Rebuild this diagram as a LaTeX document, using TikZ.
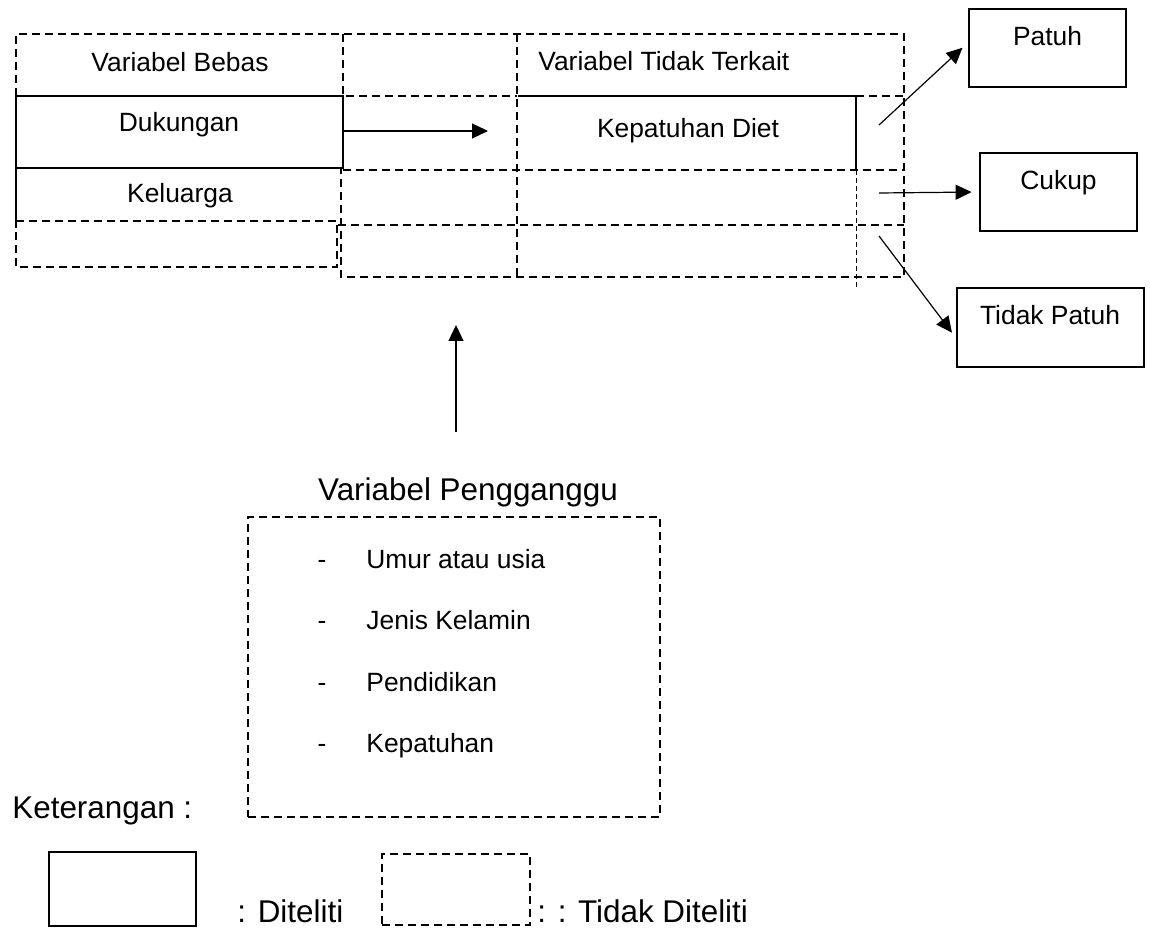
\documentclass[tikz,border=0pt]{standalone}
\usepackage{fontspec}
\setmainfont{Liberation Sans}
\usetikzlibrary{arrows.meta}

\begin{document}
\begin{tikzpicture}[x=0.5pt, y=-0.5pt, >={Triangle[length=8pt,width=7.5pt]},
 solidln/.style={line width=1.4pt},
 dashln/.style={line width=1.4pt, dash pattern=on 4pt off 2.5pt},
 thinln/.style={line width=0.5pt, dash pattern=on 2.5pt off 1.5pt},
 arr/.style={->, line width=0.6pt},
 cell/.style={font=\fontsize{13.2}{16}\selectfont, inner sep=0pt, anchor=base},
 big/.style={font=\fontsize{15.7}{19}\selectfont, inner sep=0pt, anchor=base},
 outbox/.style={draw, line width=1.4pt, inner sep=0pt}]
 \useasboundingbox (0,0) rectangle (1150,930);

 \draw[solidln] (16,96) -- (343,96) -- (343,168) -- (16,168);
 \draw[solidln] (16,96) -- (16,228);
 \draw[solidln] (518,96) -- (856,96) -- (856,170);
 \draw[dashln] (16,96) -- (16,34) -- (904,34) -- (904,277) -- (341,277) -- (341,168);
 \draw[dashln] (343,34) -- (343,96) -- (517,96);
 \draw[dashln] (856,96) -- (904,96);
 \draw[dashln] (517,34) -- (517,277);
 \draw[dashln] (343,170) -- (904,170);
 \draw[dashln] (338,225) -- (904,225);
 \draw[dashln] (16,221) -- (337,221) -- (337,267) -- (16,267) -- cycle;
 \draw[thinln] (856,170) -- (856,287);

 \node[cell] (bebas) at (180,72) {Variabel Bebas};
 \node[cell] (dukungan) at (179,132) {Dukungan};
 \node[cell] (keluarga) at (180,203) {Keluarga};
 \node[cell, anchor=base west] (terkait) at (538,71) {Variabel Tidak Terkait};
 \node[cell] (diet) at (688,138) {Kepatuhan Diet};

 \coordinate (dukR) at (343,131);
 \coordinate (dietL) at (488,131);
 \draw[arr] (dukR) -- (dietL);

 \node[outbox, minimum width=78.5pt, minimum height=39pt] (patuh) at (1047.5,48) {};
 \node[cell] (patuhtxt) at (1047.5,46) {Patuh};
 \node[outbox, minimum width=78.5pt, minimum height=39pt] (cukup) at (1058.5,192) {};
 \node[cell] (cukuptxt) at (1058.5,190) {Cukup};
 \node[outbox, minimum width=93.5pt, minimum height=39.5pt] (tidakpatuh) at (1050.5,327.5) {};
 \node[cell] (tidakpatuhtxt) at (1050,325) {Tidak Patuh};

 \coordinate (o1) at (879,125);
 \coordinate (o2) at (879,193);
 \coordinate (o3) at (879,236);
 \draw[arr, shorten >=3.5pt] (o1) -- ([yshift=2.5pt]patuh.west);
 \draw[arr, shorten >=3.5pt] (o2) -- (cukup.west);
 \draw[arr, shorten >=3pt] (o3) -- ([yshift=-5pt]tidakpatuh.west);

 \coordinate (up0) at (456,432);
 \coordinate (up1) at (456,325);
 \draw[arr] (up0) -- (up1);

 \node[big] (judul) at (468,500) {Variabel Pengganggu};
 \node[draw, dashln, minimum width=206pt, minimum height=150pt] (ganggu) at (454,667) {};
 \foreach \y/\t [count=\i] in {568/Umur atau usia, 629/Jenis Kelamin, 691/Pendidikan, 752/Kepatuhan} {
  \node[cell] (strip\i) at (322,\y) {-};
  \node[cell, anchor=base west] (item\i) at (366,\y) {\t};
 }

 \node[big, anchor=base west] (ket) at (12,818) {Keterangan :};
 \node[outbox, minimum width=73.5pt, minimum height=37pt] (ketdit) at (122.5,889) {};
 \node[big, anchor=base west] (ditxt) at (237,922) {: Diteliti};
 \node[draw, dashln, minimum width=74pt, minimum height=35.5pt] (kettdk) at (456,889.5) {};
 \node[big, anchor=base west] (tdktxt) at (537,922) {: : Tidak Diteliti};
\end{tikzpicture}
\end{document}
